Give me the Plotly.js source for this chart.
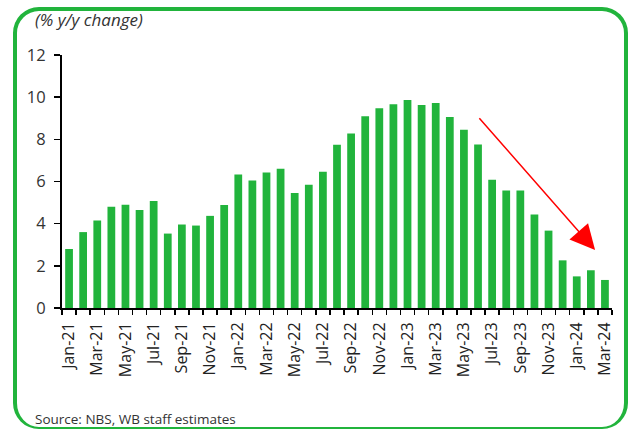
<!DOCTYPE html>
<html>
<head>
<meta charset="utf-8">
<script src="https://cdn.plot.ly/plotly-3.0.1.min.js"></script>
<style>
  html, body { margin: 0; padding: 0; background: #fff; overflow: hidden; }
  #wrap { position: relative; width: 629px; height: 430px; overflow: hidden; }
  #chart { position: absolute; left: 0; top: 0; width: 629px; height: 430px; }
  #frame { position: absolute; left: 13px; top: 7px; width: 607px; height: 416px;
           border: 4px solid #21b43c; border-bottom-width: 2px; border-radius: 26px; pointer-events: none; }
</style>
</head>
<body>
<div id="wrap">
  <div id="chart"></div>
  <div id="frame"></div>
</div>
<script>
const months = [
  "Jan-21","Feb-21","Mar-21","Apr-21","May-21","Jun-21","Jul-21","Aug-21","Sep-21","Oct-21","Nov-21","Dec-21",
  "Jan-22","Feb-22","Mar-22","Apr-22","May-22","Jun-22","Jul-22","Aug-22","Sep-22","Oct-22","Nov-22","Dec-22",
  "Jan-23","Feb-23","Mar-23","Apr-23","May-23","Jun-23","Jul-23","Aug-23","Sep-23","Oct-23","Nov-23","Dec-23",
  "Jan-24","Feb-24","Mar-24"
];
const inflation = [
  2.8, 3.6, 4.15, 4.8, 4.9, 4.65, 5.07, 3.53, 3.96, 3.91, 4.37, 4.88,
  6.33, 6.05, 6.43, 6.6, 5.45, 5.84, 6.46, 7.74, 8.28, 9.1, 9.48, 9.66,
  9.86, 9.63, 9.72, 9.06, 8.45, 7.76, 6.08, 5.57, 5.57, 4.43, 3.67, 2.26,
  1.5, 1.79, 1.33
];
const yTicks = [0, 2, 4, 6, 8, 10, 12];
const arrowFrom = { month: "Jun-23", value: 9.07 };
const arrowTo = { month: "Feb-24", value: 2.75 };

const idx = months.map((m, i) => i);
const labelIdx = idx.filter(i => i % 2 === 0);
const xOf = m => months.indexOf(m);

const font = "'Open Sans', 'Noto Sans', sans-serif";

const trace = {
  type: "bar",
  x: idx,
  y: inflation,
  marker: { color: "#21b43c", line: { width: 0 } },
  hoverinfo: "skip"
};

const layout = {
  width: 629, height: 430,
  margin: { l: 62, r: 17, t: 55, b: 122 },
  paper_bgcolor: "#fff", plot_bgcolor: "#fff",
  bargap: 0.45,
  showlegend: false,
  font: { family: font, color: "#333" },
  xaxis: {
    type: "linear",
    range: [-0.5, 38.5],
    tickvals: labelIdx,
    ticktext: labelIdx.map(i => months[i]),
    tickangle: -90,
    ticks: "",
    ticklen: 0,
    ticklabelstandoff: 6,
    tickfont: { size: 16, color: "#222", family: font },
    showline: true, linecolor: "#000", linewidth: 2,
    showgrid: false, zeroline: false,
    minor: { tick0: -0.5, dtick: 1, ticks: "outside", ticklen: 5, tickwidth: 1.5, tickcolor: "#000", showgrid: false },
    fixedrange: true
  },
  yaxis: {
    range: [0, 12],
    tickvals: yTicks,
    ticks: "outside", ticklen: 6, tickwidth: 1.5, tickcolor: "#000",
    ticklabelstandoff: 5,
    tickfont: { size: 16.5, color: "#333", family: font },
    showline: true, linecolor: "#000", linewidth: 2,
    showgrid: false, zeroline: false,
    fixedrange: true
  },
  title: {
    text: "<i>(% y/y change)</i>",
    x: 35 / 629, xanchor: "left", xref: "container",
    y: 1 - 20 / 430, yanchor: "middle", yref: "container",
    font: { size: 17, color: "#333", family: font }
  },
  annotations: [
    {
      x: xOf(arrowTo.month) + 0.3, y: arrowTo.value, xref: "x", yref: "y",
      ax: xOf(arrowFrom.month), ay: arrowFrom.value, axref: "x", ayref: "y",
      showarrow: true, arrowhead: 2, arrowsize: 3.3, arrowwidth: 1.5,
      arrowcolor: "#ff0000", text: ""
    },
    {
      text: "Source: NBS, WB staff estimates",
      xref: "paper", yref: "paper",
      x: (33 - 62) / 550, y: -(419 - 308) / 253,
      xanchor: "left", yanchor: "middle", showarrow: false,
      font: { size: 13.5, color: "#333", family: font }
    }
  ]
};

Plotly.newPlot("chart", [trace], layout, { displayModeBar: false, staticPlot: true });
</script>
</body>
</html>
